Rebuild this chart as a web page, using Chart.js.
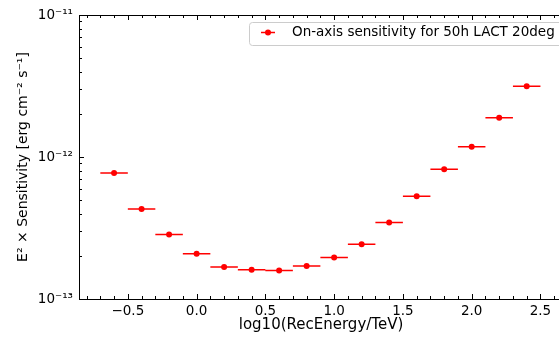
<!DOCTYPE html>
<html><head><meta charset="utf-8">
<script src="https://cdn.jsdelivr.net/npm/chart.js@4/dist/chart.umd.min.js"></script>
<style>html,body{margin:0;padding:0;background:#fff;overflow:hidden;width:559px;height:339px}</style>
</head><body>
<canvas id="c" width="566" height="339"></canvas>
<script>
// ---- data ----
const logE = [-0.6, -0.4, -0.2, 0.0, 0.2, 0.4, 0.6, 0.8, 1.0, 1.2, 1.4, 1.6, 1.8, 2.0, 2.2, 2.4];
const sensitivity = [7.7e-13, 4.3e-13, 2.85e-13, 2.08e-13, 1.68e-13, 1.61e-13, 1.59e-13, 1.71e-13,
                     1.96e-13, 2.43e-13, 3.46e-13, 5.3e-13, 8.2e-13, 1.18e-12, 1.89e-12, 3.15e-12];
const binHalfWidth = [0.1, 0.1, 0.1, 0.1, 0.1, 0.1, 0.1, 0.1, 0.1, 0.1, 0.1, 0.1, 0.1, 0.1, 0.1, 0.1];
const xTickValues = [-0.5, 0.0, 0.5, 1.0, 1.5, 2.0, 2.5];
const yTickValues = [1e-13, 1e-12, 1e-11];
const seriesLabel = 'On-axis sensitivity for 50h LACT 20deg';
const xTitle = 'log10(RecEnergy/TeV)';
const yTitle = 'E\u00B2 \u00D7 Sensitivity [erg cm\u207B\u00B2 s\u207B\u00B9]';

// ---- derived datasets ----
const points = logE.map((x, i) => ({x: x, y: sensitivity[i]}));
const errSegments = [];
logE.forEach((x, i) => {
  errSegments.push({x: x - binHalfWidth[i], y: sensitivity[i]});
  errSegments.push({x: x + binHalfWidth[i], y: sensitivity[i]});
  errSegments.push({x: x + binHalfWidth[i], y: null});
});

const SUP = {'-':'\u207B','0':'\u2070','1':'\u00B9','2':'\u00B2','3':'\u00B3','4':'\u2074','5':'\u2075','6':'\u2076','7':'\u2077','8':'\u2078','9':'\u2079'};
const FONT = 'DejaVu Sans';
Chart.defaults.font.family = FONT;
Chart.defaults.color = '#000';

const frame = {
  id: 'frame',
  afterDraw(chart) {
    const {ctx, chartArea: a, scales: {x, y}} = chart;
    ctx.save();
    ctx.strokeStyle = '#000';
    ctx.lineWidth = 1;
    // top spine
    ctx.beginPath();
    ctx.moveTo(a.left, Math.round(a.top) + 0.5);
    ctx.lineTo(a.right, Math.round(a.top) + 0.5);
    ctx.stroke();
    // x ticks (inward, bottom and top)
    for (let i = -8; i <= 26; i++) {
      const v = i / 10;
      if (v < x.min || v > x.max) continue;
      const px = Math.round(x.getPixelForValue(v)) + 0.5;
      const len = (i % 5 === 0) ? 5 : 3;
      ctx.beginPath();
      ctx.moveTo(px, a.bottom); ctx.lineTo(px, a.bottom - len);
      ctx.moveTo(px, a.top); ctx.lineTo(px, a.top + len);
      ctx.stroke();
    }
    // y ticks (inward, left)
    for (let k = -13; k <= -11; k++) {
      for (let m = 1; m <= 9; m++) {
        const v = m * Math.pow(10, k);
        if (v > y.max * 1.0001) continue;
        const py = Math.round(y.getPixelForValue(v)) + 0.5;
        const len = (m === 1) ? 5 : 3;
        ctx.beginPath();
        ctx.moveTo(a.left, py); ctx.lineTo(a.left + len, py);
        ctx.stroke();
      }
    }
    // legend
    const bx = 249.5, by = 22.5, bw = 330, bh = 23, r = 3;
    ctx.beginPath();
    ctx.moveTo(bx + r, by);
    ctx.lineTo(bx + bw, by);
    ctx.lineTo(bx + bw, by + bh);
    ctx.lineTo(bx + r, by + bh);
    ctx.arcTo(bx, by + bh, bx, by + bh - r, r);
    ctx.lineTo(bx, by + r);
    ctx.arcTo(bx, by, bx + r, by, r);
    ctx.closePath();
    ctx.fillStyle = 'rgba(255,255,255,0.8)';
    ctx.fill();
    ctx.strokeStyle = '#cccccc';
    ctx.stroke();
    const my = 32.5;
    ctx.strokeStyle = 'red';
    ctx.lineWidth = 1.5;
    ctx.beginPath(); ctx.moveTo(261, my); ctx.lineTo(275, my); ctx.stroke();
    ctx.fillStyle = 'red';
    ctx.beginPath(); ctx.arc(268, my, 3, 0, Math.PI * 2); ctx.fill();
    ctx.fillStyle = '#000';
    ctx.font = '13.5px "' + FONT + '"';
    ctx.textBaseline = 'middle';
    ctx.textAlign = 'left';
    ctx.fillText(seriesLabel, 292, 32.5);
    ctx.restore();
  }
};

new Chart(document.getElementById('c'), {
  type: 'scatter',
  data: {
    datasets: [
      {type: 'line', data: errSegments, borderColor: 'red', borderWidth: 1.5, pointRadius: 0,
       spanGaps: false, fill: false, tension: 0, order: 2},
      {type: 'scatter', label: seriesLabel, data: points, pointRadius: 3, pointHoverRadius: 3,
       backgroundColor: 'red', borderColor: 'red', borderWidth: 0, order: 1}
    ]
  },
  options: {
    responsive: false,
    animation: false,
    devicePixelRatio: 1,
    layout: {padding: {top: 15, right: 0, left: 0, bottom: 0}},
    plugins: {legend: {display: false}, tooltip: {enabled: false}},
    scales: {
      x: {
        type: 'linear', position: 'bottom', min: -0.855, max: 2.664,
        afterBuildTicks: s => { s.ticks = xTickValues.map(v => ({value: v})); },
        afterFit: s => { s.height = 40; },
        ticks: {autoSkip: false, maxRotation: 0, padding: 4, font: {size: 13.5},
                callback: v => (v < 0 ? '\u2212' : '') + Math.abs(v).toFixed(1)},
        grid: {display: false, drawTicks: false, tickLength: 0},
        border: {display: true, color: '#000', width: 1},
        title: {display: true, text: xTitle, font: {size: 15}, padding: {top: 0, bottom: 5}}
      },
      y: {
        type: 'logarithmic', position: 'left', min: 1e-13, max: 1e-11,
        afterBuildTicks: s => { s.ticks = yTickValues.map(v => ({value: v})); },
        afterFit: s => { s.width = 79; },
        ticks: {autoSkip: false, padding: 6, font: {size: 13.5},
                callback: v => '10' + String(Math.round(Math.log10(v))).split('').map(c => SUP[c]).join('')},
        grid: {display: false, drawTicks: false, tickLength: 0},
        border: {display: true, color: '#000', width: 1},
        title: {display: true, text: yTitle, font: {size: 14}, padding: {top: 15, bottom: 0}}
      }
    }
  },
  plugins: [frame]
});
</script>
</body></html>
